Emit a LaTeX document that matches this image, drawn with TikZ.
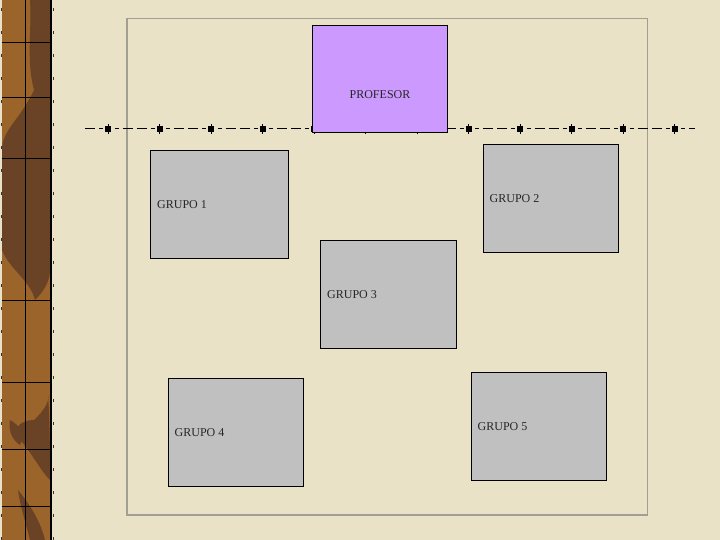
\documentclass[tikz,border=0pt]{standalone}
\usepackage{fontspec}
\setmainfont{Liberation Serif}
\definecolor{parch}{HTML}{E9E2C6}
\definecolor{framegray}{HTML}{A29E92}
\definecolor{boxgray}{HTML}{C0C0C0}
\definecolor{lilac}{HTML}{CC99FF}
\definecolor{brownlight}{HTML}{9A642A}
\definecolor{browndark}{HTML}{6A4226}
\begin{document}
\begin{tikzpicture}[x=1pt,y=-1pt,
  box/.style={draw=black, line width=1pt, fill=boxgray, inner sep=0pt, anchor=north west},
  profbox/.style={box, fill=lilac},
  lbl/.style={font=\fontsize{12}{14}\selectfont, inner sep=0pt, text=black!85},
  dashline/.style={black, line width=1pt, dash pattern=on 4pt off 4pt on 10pt off 4pt on 10pt off 4pt on 4pt off 11.5pt, dash phase=21pt},
  mk/.style={fill=black, minimum size=6pt, inner sep=0pt},
  tickline/.style={black, line width=0.7pt},
  stripline/.style={black, line width=1pt}]
\useasboundingbox (0,0) rectangle (720,540);
% background
\fill[parch] (0,0) rectangle (720,540);
% left decorative strip
\fill[brownlight] (2,0) rectangle (50,540);
\fill[browndark] (30,0) .. controls (32,30) and (26,60) .. (34,90) .. controls (20,120) and (2,130) .. (2,150) -- (2,250) .. controls (10,270) and (30,280) .. (35,300) .. controls (45,290) and (50,280) .. (50,270) -- (50,0) -- cycle;
\fill[browndark] (40,45) .. controls (30,55) and (28,70) .. (36,80) -- (50,80) -- (50,40) -- cycle;
\fill[browndark] (12,205) .. controls (25,215) and (30,240) .. (50,245) -- (50,200) -- cycle;
\fill[browndark] (34,420) .. controls (45,410) and (50,400) .. (48,395) .. controls (50,420) and (50,460) .. (50,480) .. controls (40,470) and (30,450) .. (20,440) .. controls (10,430) and (20,420) .. (34,420) -- cycle;
\fill[browndark] (10,420) .. controls (20,425) and (25,435) .. (20,445) .. controls (12,440) and (8,430) .. (10,420) -- cycle;
\fill[browndark] (18,490) .. controls (30,505) and (40,520) .. (45,540) -- (30,540) .. controls (25,520) and (20,505) .. (18,490) -- cycle;
\draw[stripline] (25.5,0) -- (25.5,540);
\foreach \yy in {43,98,159,300,382,449,506} \draw[stripline] (2,\yy) -- (50,\yy);
\draw[black, line width=2pt] (51,0) -- (51,540);
\draw[black!80, line width=1pt, dash pattern=on 3pt off 20pt] (1.5,8) -- (1.5,540);
\draw[black!80, line width=1pt, dash pattern=on 3pt off 20pt] (53.5,8) -- (53.5,540);
% frame
\draw[framegray, line width=1.8pt] (127,18.5) rectangle (647.5,515);
% dashed line with markers
\coordinate (ls) at (84,129);
\coordinate (le) at (695,129);
\draw[dashline] (ls) -- (le);
\foreach \i in {0,...,11} {
  \node[mk] (m\i) at ({108+51.5*\i},129) {};
  \draw[tickline] ([yshift=-5pt]m\i.center) -- ([yshift=5pt]m\i.center);
}
% professor
\node[profbox, minimum width=135pt, minimum height=107pt] (prof) at (312,25) {};
\node[lbl] (tprof) at ([yshift=-15.5pt]prof.center) {PROFESOR};
% groups
\node[box, minimum width=138pt, minimum height=108pt] (g1) at (150,150) {};
\node[lbl, anchor=west] (t1) at ([xshift=7pt]g1.west) {GRUPO 1};
\node[box, minimum width=135pt, minimum height=108pt] (g2) at (483,144) {};
\node[lbl, anchor=west] (t2) at ([xshift=6.5pt]g2.west) {GRUPO 2};
\node[box, minimum width=136pt, minimum height=108pt] (g3) at (320,240) {};
\node[lbl, anchor=west] (t3) at ([xshift=7pt]g3.west) {GRUPO 3};
\node[box, minimum width=135pt, minimum height=108pt] (g4) at (168,378) {};
\node[lbl, anchor=west] (t4) at ([xshift=6.5pt]g4.west) {GRUPO 4};
\node[box, minimum width=135pt, minimum height=108pt] (g5) at (471,372) {};
\node[lbl, anchor=west] (t5) at ([xshift=6.5pt]g5.west) {GRUPO 5};
\end{tikzpicture}
\end{document}
